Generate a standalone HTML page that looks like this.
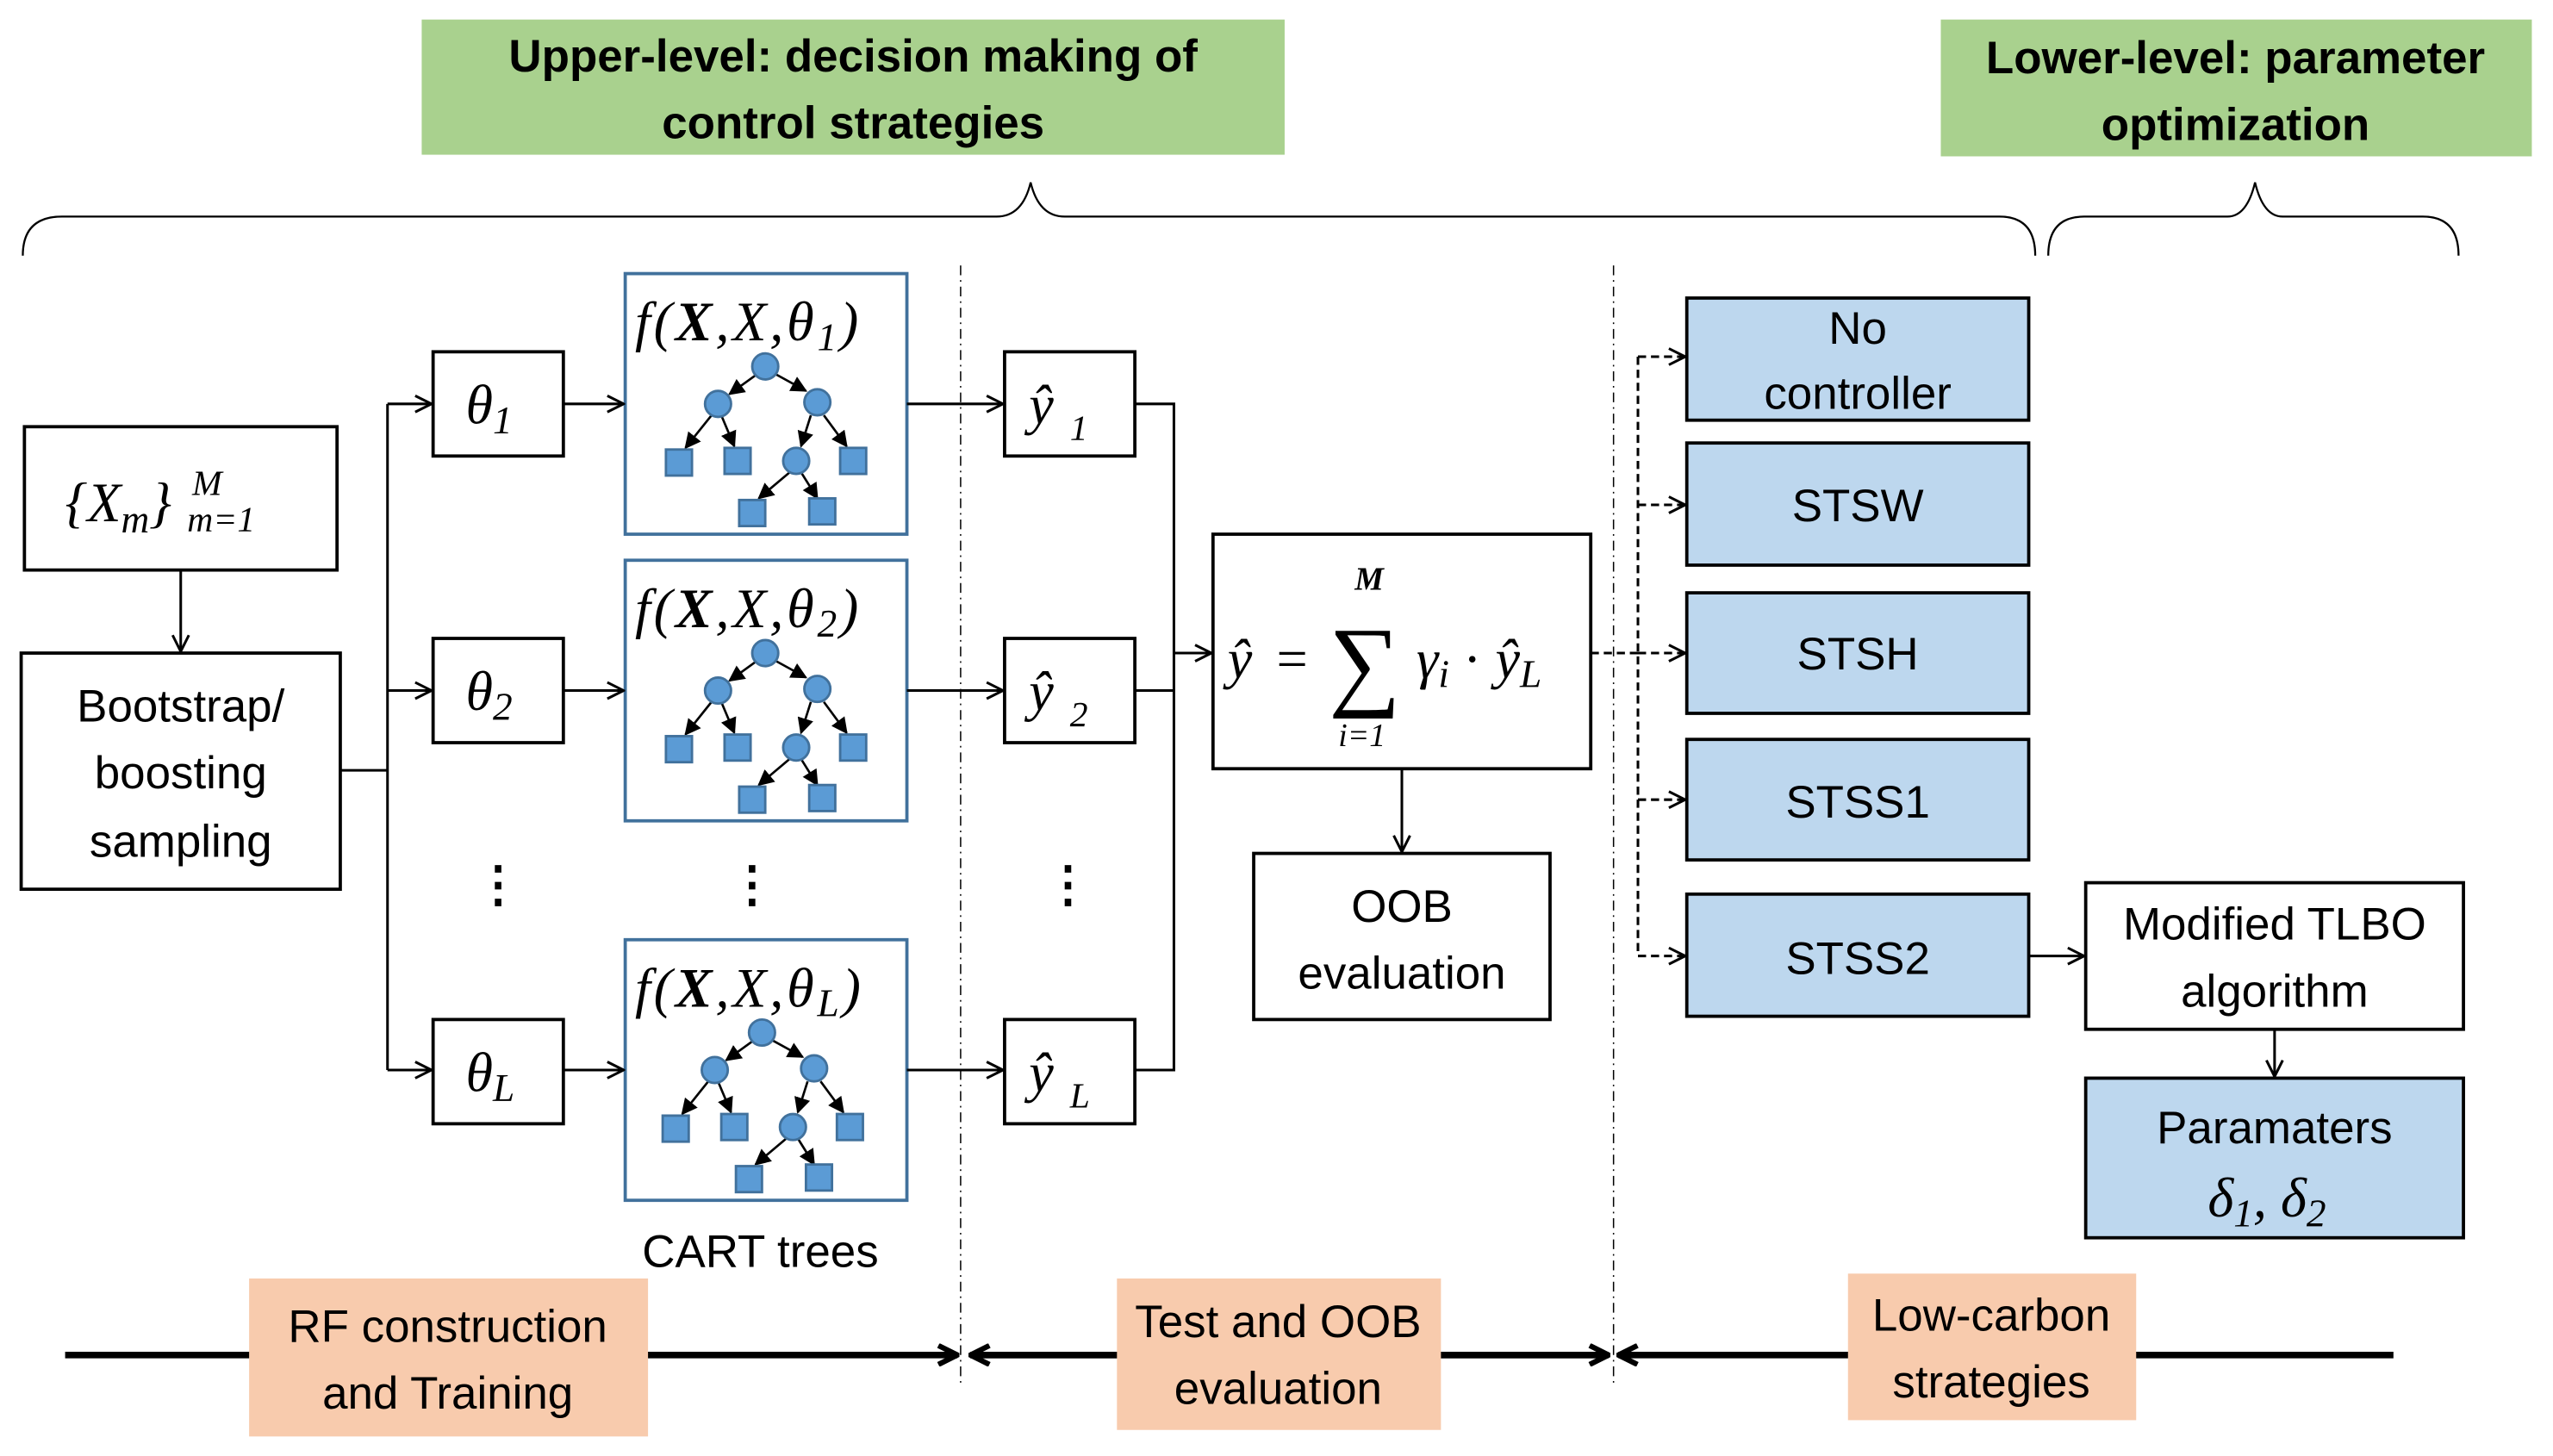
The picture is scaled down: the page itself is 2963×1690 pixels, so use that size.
<!DOCTYPE html>
<html><head><meta charset="utf-8"><style>
html,body{margin:0;padding:0;background:#fff;}
svg{display:block;}
.t{font-family:"Liberation Sans",sans-serif;fill:#000;}
.m{font-family:"Liberation Serif","DejaVu Serif",serif;font-style:italic;fill:#000;}
</style></head><body>
<svg width="2963" height="1690" viewBox="0 0 1568 894" preserveAspectRatio="none" xmlns="http://www.w3.org/2000/svg">
<defs>
<marker id="a" viewBox="0 0 12 12" refX="11" refY="6" markerWidth="12" markerHeight="12" markerUnits="userSpaceOnUse" orient="auto">
<path d="M1,1 L11,6 L1,11" fill="none" stroke="#000" stroke-width="1.6"/></marker>
<marker id="s" viewBox="0 0 10 10" refX="9" refY="5" markerWidth="10" markerHeight="10" markerUnits="userSpaceOnUse" orient="auto">
<path d="M0,0 L10,5 L0,10 z" fill="#000"/></marker>
<marker id="b" viewBox="0 0 12 12" refX="11" refY="6" markerWidth="14" markerHeight="14" markerUnits="userSpaceOnUse" orient="auto">
<path d="M1,1 L11,6 L1,11" fill="none" stroke="#000" stroke-width="2.8"/></marker>
<g id="tree">
<g stroke="#000" stroke-width="1.4" marker-end="url(#s)">
<line x1="466" y1="229" x2="448" y2="242"/>
<line x1="475" y1="229" x2="495" y2="240"/>
<line x1="437" y1="255" x2="421" y2="275"/>
<line x1="443" y1="255" x2="451" y2="274"/>
<line x1="498" y1="255" x2="492" y2="274"/>
<line x1="506" y1="255" x2="520" y2="274"/>
<line x1="485" y1="290" x2="466" y2="306"/>
<line x1="492" y1="290" x2="502" y2="306"/>
</g>
<g fill="#5b9bd5" stroke="#41719c" stroke-width="1.5">
<circle cx="470" cy="225" r="8"/><circle cx="441" cy="248" r="8"/><circle cx="502" cy="247" r="8"/><circle cx="489" cy="283" r="8"/>
<rect x="409" y="276" width="16" height="16"/><rect x="445" y="275" width="16" height="16"/><rect x="516" y="275" width="16" height="16"/>
<rect x="454" y="307" width="16" height="16"/><rect x="497" y="306" width="16" height="16"/>
</g></g>
</defs>

<rect x="259" y="12" width="530" height="83" fill="#a9d18e"/>
<text class="t" x="524" y="44" font-size="28" font-weight="bold" text-anchor="middle">Upper-level: decision making of</text>
<text class="t" x="524" y="85" font-size="28" font-weight="bold" text-anchor="middle">control strategies</text>
<rect x="1192" y="12" width="363" height="84" fill="#a9d18e"/>
<text class="t" x="1373" y="45" font-size="28" font-weight="bold" text-anchor="middle">Lower-level: parameter</text>
<text class="t" x="1373" y="86" font-size="28" font-weight="bold" text-anchor="middle">optimization</text>

<g fill="none" stroke="#000" stroke-width="1.2">
<path d="M14,157 Q14,133 38,133 L612,133 Q628,133 633,112 Q638,133 654,133 L1228,133 Q1250,133 1250,157"/>
<path d="M1258,157 Q1258,133 1280,133 L1368,133 Q1380,133 1385,112 Q1390,133 1402,133 L1488,133 Q1510,133 1510,157"/>
</g>
<g stroke="#000" stroke-width="0.8" stroke-dasharray="6,3,1,3">
<line x1="590" y1="163" x2="590" y2="850"/>
<line x1="991" y1="163" x2="991" y2="850"/>
</g>

<g fill="#fff" stroke="#000" stroke-width="2">
<rect x="15" y="262" width="192" height="88"/>
<rect x="13" y="401" width="196" height="145"/>
<rect x="266" y="216" width="80" height="64"/>
<rect x="266" y="392" width="80" height="64"/>
<rect x="266" y="626" width="80" height="64"/>
<rect x="617" y="216" width="80" height="64"/>
<rect x="617" y="392" width="80" height="64"/>
<rect x="617" y="626" width="80" height="64"/>
<rect x="745" y="328" width="232" height="144"/>
<rect x="770" y="524" width="182" height="102"/>
<rect x="1281" y="542" width="232" height="90"/>
</g>
<g fill="#bdd7ee" stroke="#000" stroke-width="2">
<rect x="1036" y="183" width="210" height="75"/>
<rect x="1036" y="272" width="210" height="75"/>
<rect x="1036" y="364" width="210" height="74"/>
<rect x="1036" y="454" width="210" height="74"/>
<rect x="1036" y="549" width="210" height="75"/>
<rect x="1281" y="662" width="232" height="98"/>
</g>
<g fill="#fff" stroke="#41719c" stroke-width="2">
<rect x="384" y="168" width="173" height="160"/>
<rect x="384" y="344" width="173" height="160"/>
<rect x="384" y="577" width="173" height="160"/>
</g>
<use href="#tree"/>
<use href="#tree" transform="translate(0,176)"/>
<use href="#tree" transform="translate(-2,409)"/>

<g stroke="#000" stroke-width="1.6" fill="none">
<line x1="111" y1="350" x2="111" y2="400" marker-end="url(#a)"/>
<polyline points="209,473 238,473"/>
<line x1="238" y1="248" x2="238" y2="657"/>
<line x1="238" y1="248" x2="265" y2="248" marker-end="url(#a)"/>
<line x1="238" y1="424" x2="265" y2="424" marker-end="url(#a)"/>
<line x1="238" y1="657" x2="265" y2="657" marker-end="url(#a)"/>
<line x1="346" y1="248" x2="383" y2="248" marker-end="url(#a)"/>
<line x1="346" y1="424" x2="383" y2="424" marker-end="url(#a)"/>
<line x1="346" y1="657" x2="383" y2="657" marker-end="url(#a)"/>
<line x1="557" y1="248" x2="616" y2="248" marker-end="url(#a)"/>
<line x1="557" y1="424" x2="616" y2="424" marker-end="url(#a)"/>
<line x1="557" y1="657" x2="616" y2="657" marker-end="url(#a)"/>
<polyline points="697,248 721,248 721,657 697,657"/>
<line x1="697" y1="424" x2="721" y2="424"/>
<line x1="721" y1="401" x2="744" y2="401" marker-end="url(#a)"/>
<line x1="861" y1="472" x2="861" y2="523" marker-end="url(#a)"/>
<line x1="1246" y1="587" x2="1280" y2="587" marker-end="url(#a)"/>
<line x1="1397" y1="632" x2="1397" y2="661" marker-end="url(#a)"/>
</g>
<g stroke="#000" stroke-width="1.6" fill="none" stroke-dasharray="5,3">
<line x1="977" y1="401" x2="1006" y2="401"/>
<line x1="1006" y1="219" x2="1006" y2="587"/>
<line x1="1006" y1="219" x2="1035" y2="219" marker-end="url(#a)"/>
<line x1="1006" y1="310" x2="1035" y2="310" marker-end="url(#a)"/>
<line x1="1006" y1="401" x2="1035" y2="401" marker-end="url(#a)"/>
<line x1="1006" y1="491" x2="1035" y2="491" marker-end="url(#a)"/>
<line x1="1006" y1="587" x2="1035" y2="587" marker-end="url(#a)"/>
</g>

<g stroke="#000" stroke-width="4" fill="none">
<line x1="40" y1="832" x2="588" y2="832" marker-end="url(#b)"/>
<line x1="986" y1="832" x2="596" y2="832" marker-end="url(#b)"/>
<line x1="596" y1="832" x2="988" y2="832" marker-end="url(#b)"/>
<line x1="1470" y1="832" x2="994" y2="832" marker-end="url(#b)"/>
</g>
<rect x="153" y="785" width="245" height="97" fill="#f8cbad"/>
<rect x="686" y="785" width="199" height="93" fill="#f8cbad"/>
<rect x="1135" y="782" width="177" height="90" fill="#f8cbad"/>
<g class="t" font-size="28" text-anchor="middle">
<text x="275" y="824">RF construction</text><text x="275" y="865">and Training</text>
<text x="785" y="821">Test and OOB</text><text x="785" y="862">evaluation</text>
<text x="1223" y="817">Low-carbon</text><text x="1223" y="858">strategies</text>
<text x="111" y="443">Bootstrap/</text><text x="111" y="484">boosting</text><text x="111" y="526">sampling</text>
<text x="467" y="778">CART trees</text>
<text x="861" y="566">OOB</text><text x="861" y="607">evaluation</text>
<text x="1141" y="211">No</text><text x="1141" y="251">controller</text>
<text x="1141" y="320">STSW</text><text x="1141" y="411">STSH</text>
<text x="1141" y="502">STSS1</text><text x="1141" y="598">STSS2</text>
<text x="1397" y="577">Modified TLBO</text><text x="1397" y="618">algorithm</text>
<text x="1397" y="702">Paramaters</text>
</g>
<g class="t" font-size="30" font-weight="bold" text-anchor="middle">
<text x="306" y="553">⋮</text><text x="462" y="553">⋮</text><text x="656" y="553">⋮</text>
</g>
<g class="m">
<text x="40" y="320" font-size="34">{X<tspan font-size="24" dy="7">m</tspan><tspan font-size="34" dy="-7">}</tspan></text>
<text x="118" y="304" font-size="22">M</text>
<text x="115" y="326" font-size="22">m=1</text>
<text x="286" y="260" font-size="34">θ<tspan font-size="24" dy="6">1</tspan></text>
<text x="286" y="436" font-size="34">θ<tspan font-size="24" dy="6">2</tspan></text>
<text x="286" y="670" font-size="34">θ<tspan font-size="24" dy="6">L</tspan></text>
<text x="632" y="260" font-size="34">ŷ<tspan font-size="22" dx="10" dy="10">1</tspan></text>
<text x="632" y="436" font-size="34">ŷ<tspan font-size="22" dx="10" dy="10">2</tspan></text>
<text x="632" y="670" font-size="34">ŷ<tspan font-size="22" dx="10" dy="10">L</tspan></text>
<text x="390" y="209" font-size="34" letter-spacing="2">f(<tspan font-weight="bold">X</tspan>,X,θ<tspan font-size="24" dy="6">1</tspan><tspan font-size="34" dy="-6">)</tspan></text>
<text x="390" y="385" font-size="34" letter-spacing="2">f(<tspan font-weight="bold">X</tspan>,X,θ<tspan font-size="24" dy="6">2</tspan><tspan font-size="34" dy="-6">)</tspan></text>
<text x="390" y="618" font-size="34" letter-spacing="2">f(<tspan font-weight="bold">X</tspan>,X,θ<tspan font-size="24" dy="6">L</tspan><tspan font-size="34" dy="-6">)</tspan></text>
<text x="754" y="416" font-size="34">ŷ</text>
<text x="784" y="416" font-size="34" font-style="normal">=</text>
<text x="816" y="428" font-size="62" font-style="normal">∑</text>
<text x="832" y="362" font-size="20" font-weight="bold">M</text>
<text x="822" y="458" font-size="20">i=1</text>
<text x="870" y="416" font-size="34">γ<tspan font-size="24" dy="6">i</tspan><tspan font-size="34" dy="-6" font-style="normal"> · </tspan>ŷ<tspan font-size="24" dy="6">L</tspan></text>
<text x="1356" y="747" font-size="34">δ<tspan font-size="24" dy="6">1</tspan><tspan font-size="34" dy="-6">, δ</tspan><tspan font-size="24" dy="6">2</tspan></text>
</g>
</svg>
</body></html>
